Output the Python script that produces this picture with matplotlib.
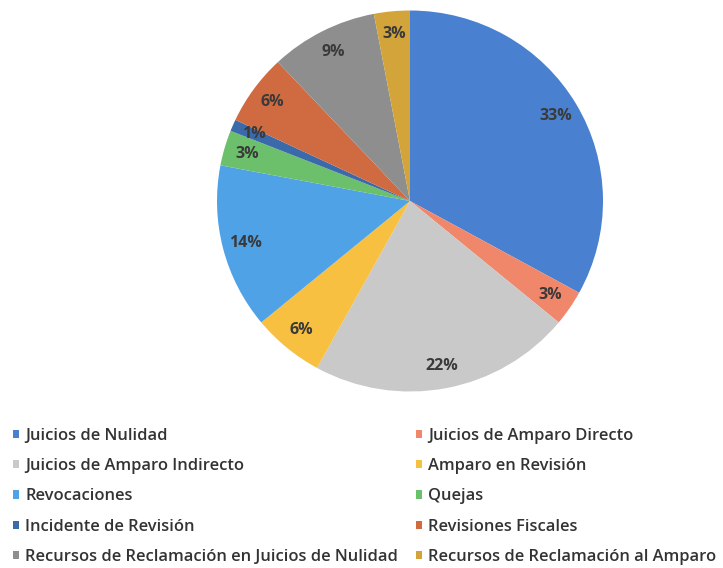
import matplotlib
matplotlib.use("Agg")
import matplotlib.pyplot as plt

categories = [
    "Juicios de Nulidad",
    "Juicios de Amparo Directo",
    "Juicios de Amparo Indirecto",
    "Amparo en Revisión",
    "Revocaciones",
    "Quejas",
    "Incidente de Revisión",
    "Revisiones Fiscales",
    "Recursos de Reclamación en Juicios de Nulidad",
    "Recursos de Reclamación al Amparo",
]
values = [33, 3, 22, 6, 14, 3, 1, 6, 9, 3]
colors = ["#4a80d0", "#f0876a", "#c9c9c9", "#f8c040", "#50a2e6",
          "#6cc06c", "#3a6aaa", "#d06a40", "#8e8e8e", "#d2a43a"]

plt.rcParams['font.family'] = ['Open Sans', 'DejaVu Sans']

W, H = 723, 568
fig = plt.figure(figsize=(W / 100, H / 100), dpi=100)
cx, cy, rx, ry = 410, 201, 193, 190.5
ax = fig.add_axes([(cx - rx) / W, (H - cy - ry) / H, 2 * rx / W, 2 * ry / H])

wedges, texts, autotexts = ax.pie(
    values, colors=colors, startangle=90, counterclock=False,
    autopct=lambda p: f"{p:.0f}%", pctdistance=0.88,
    wedgeprops=dict(linewidth=0),
    textprops=dict(fontsize=11.5, fontweight='bold', color='#3a3a3a'))
ax.set_xlim(-1, 1)
ax.set_ylim(-1, 1)
ax.set_aspect('auto')
ax.axis('off')

legkw = dict(frameon=False, fontsize=11.9, handlelength=0.37, handleheight=0.37,
             handletextpad=0.38, labelspacing=0.86, borderpad=0, borderaxespad=0,
             labelcolor='#333333')
left_idx = [0, 2, 4, 6, 8]
right_idx = [1, 3, 5, 7, 9]
leg1 = fig.legend([wedges[i] for i in left_idx], [categories[i] for i in left_idx],
                  loc='upper left', bbox_to_anchor=(13 / W, 1 - 428 / H), **legkw)
leg2 = fig.legend([wedges[i] for i in right_idx], [categories[i] for i in right_idx],
                  loc='upper left', bbox_to_anchor=(416 / W, 1 - 428 / H), **legkw)
for leg in (leg1, leg2):
    for t in leg.get_texts():
        t.set_fontweight('semibold')

fig.savefig("out.png", dpi=100, facecolor='white')
